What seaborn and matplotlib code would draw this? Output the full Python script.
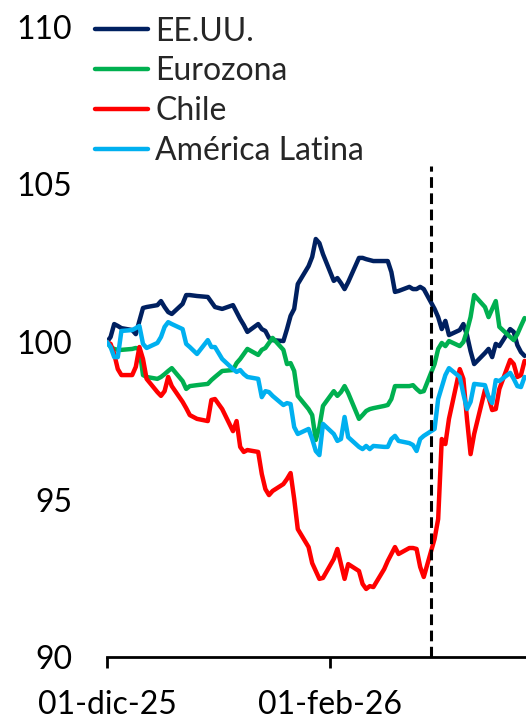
import numpy as np
import pandas as pd
import matplotlib
matplotlib.use("Agg")
import matplotlib.pyplot as plt
import matplotlib.dates as mdates
import seaborn as sns

# Business days Dec-2025 .. Mar-2026 (excluding 25-Dec and 01-Jan)
dates = [d for d in pd.bdate_range("2025-12-01", "2026-03-27")
         if d not in (pd.Timestamp("2025-12-25"), pd.Timestamp("2026-01-01"))]

eeuu = [100.0, 100.16, 100.57, 100.51, 100.44, 100.38, 100.25, 100.67, 101.08, 101.11, 101.17, 101.30, 101.11, 100.95, 100.89, 101.21, 101.49, 101.49, 101.46, 101.43, 101.27, 101.11,
        101.05, 101.17, 100.95, 100.73, 100.54, 100.32, 100.57, 100.41, 100.35, 100.13, 100.06, 100.03, 100.41, 100.83, 101.05, 101.84, 102.41, 102.70, 103.27, 103.14, 102.79,
        101.94, 102.03, 101.87, 101.68, 101.90, 102.67, 102.67, 102.63, 102.60, 102.57, 102.57, 102.57, 102.22, 101.59, 101.62, 101.75, 101.68, 101.68, 101.75, 101.68,
        101.05, 100.79, 100.41, 100.67, 100.22, 100.38, 100.57, 100.22, 99.71, 99.30, 99.65, 99.78, 99.52, 99.94, 99.87, 100.41, 100.32, 99.90, 99.68, 99.56]

eurozona = [100.0, 99.84, 99.78, 99.75, 99.75, 99.78, 99.81, 99.78, 98.95, 98.89, 98.83, 98.89, 98.98, 99.08, 99.17, 98.76, 98.51, 98.60, 98.63, 98.67, 98.79, 98.89,
            99.08, 99.11, 99.33, 99.46, 99.62, 99.78, 99.59, 99.75, 99.81, 99.97, 100.13, 99.75, 99.30, 99.33, 99.08, 98.29, 97.87, 97.68, 96.89, 97.30, 97.97,
            98.44, 98.29, 98.41, 98.60, 98.38, 97.56, 97.68, 97.81, 97.87, 97.90, 97.97, 98.00, 98.19, 98.60, 98.60, 98.60, 98.63, 98.51, 98.41, 98.44,
            99.30, 99.78, 99.97, 99.87, 100.03, 99.87, 100.0, 100.35, 100.79, 101.49, 101.11, 100.79, 101.05, 101.30, 100.48, 100.16, 100.06, 100.25, 100.51, 100.76]

chile = [100.0, 99.94, 99.62, 99.14, 98.95, 98.95, 99.21, 99.84, 99.46, 98.83, 98.41, 98.29, 98.44, 98.89, 98.60, 98.10, 97.90, 97.68, 97.56, 97.49, 98.16, 98.19,
         97.87, 97.17, 97.49, 96.67, 96.51, 96.57, 96.51, 95.81, 95.33, 95.14, 95.27, 95.49, 95.65, 95.84, 95.02, 94.06, 93.49, 92.98, 92.73, 92.48, 92.51,
         93.11, 93.43, 92.95, 92.48, 92.95, 92.73, 92.32, 92.16, 92.25, 92.22, 92.79, 93.05, 93.27, 93.49, 93.27, 93.46, 93.46, 93.43, 92.86, 92.54,
         93.75, 94.38, 96.92, 96.76, 97.56, 99.14, 98.83, 97.56, 96.44, 97.08, 98.48, 98.25, 97.84, 97.87, 98.51, 99.43, 99.30, 98.89, 98.95, 99.40]

america_latina = [100.0, 99.84, 99.52, 99.52, 100.35, 100.38, 100.44, 100.51, 99.94, 99.81, 99.97, 100.16, 100.48, 100.63, 100.57, 100.41, 99.94, 99.84, 99.62, 100.06, 99.84, 99.84,
                  99.46, 99.14, 99.05, 99.11, 98.98, 98.89, 98.83, 98.25, 98.44, 98.41, 98.29, 98.00, 98.06, 98.03, 97.30, 97.08, 97.24, 96.92, 96.54, 96.41, 97.40,
                  97.08, 96.86, 96.92, 97.62, 96.98, 96.67, 96.60, 96.70, 96.60, 96.70, 96.67, 96.67, 96.92, 97.02, 96.86, 96.79, 96.73, 96.54, 96.92, 97.02,
                  97.24, 98.19, 98.57, 98.95, 99.17, 98.89, 98.35, 97.87, 98.10, 98.67, 98.63, 98.25, 98.06, 98.79, 98.76, 99.02, 98.83, 98.60, 98.57, 98.89]

series_names = ["EE.UU.", "Eurozona", "Chile", "América Latina"]
colors = {"EE.UU.": "#002060", "Eurozona": "#00B050", "Chile": "#FF0000", "América Latina": "#00B0F0"}
event_date = pd.Timestamp("2026-03-01")
y_ticks = [90, 95, 100, 105, 110]
x_ticks = [pd.Timestamp("2025-12-01"), pd.Timestamp("2026-02-01")]
x_labels = ["01-dic-25", "01-feb-26"]

frames = []
for name, vals in zip(series_names, [eeuu, eurozona, chile, america_latina]):
    frames.append(pd.DataFrame({"fecha": dates, "valor": vals, "serie": name}))
df = pd.concat(frames, ignore_index=True)

sns.set_style("white")
plt.rcParams["font.family"] = ["Lato", "DejaVu Sans"]

fig = plt.figure(figsize=(5.26, 7.2), dpi=100)
ax = fig.add_axes([107 / 526, 1 - 657 / 720, 1 - 107 / 526, 630 / 720])

sns.lineplot(data=df, x="fecha", y="valor", hue="serie", hue_order=series_names,
             palette=colors, linewidth=3.2, ax=ax, legend=True)

ax.vlines(event_date, 90, 105.6, colors="black", linestyles=(0, (3.5, 1.8)), linewidth=2.2, zorder=5)

ax.set_ylim(90, 110)
ax.set_xlim(pd.Timestamp("2025-12-01"), pd.Timestamp("2025-12-01") + pd.Timedelta(days=116.4))
ax.set_yticks(y_ticks)
ax.set_xticks(x_ticks)
ax.set_xticklabels(x_labels)
ax.set_xlabel("")
ax.set_ylabel("")

for s in ["top", "right", "left"]:
    ax.spines[s].set_visible(False)
ax.spines["bottom"].set_color("black")
ax.spines["bottom"].set_linewidth(2.0)

ax.tick_params(axis="y", left=False, length=0, pad=25, labelsize=23, colors="black")
ax.tick_params(axis="x", bottom=True, length=8, width=2.0, direction="out", pad=16,
               labelsize=23, colors="black")

handles, labels = ax.get_legend_handles_labels()
for h in handles:
    h.set_linewidth(3.2)
ax.legend(handles, labels, loc="upper left", bbox_to_anchor=(95 / 526, 0.977),
          bbox_transform=fig.transFigure, frameon=False, fontsize=23,
          handlelength=1.66, handletextpad=0.22, labelspacing=0.31,
          borderpad=0, borderaxespad=0)

fig.savefig("out.png", dpi=100)
